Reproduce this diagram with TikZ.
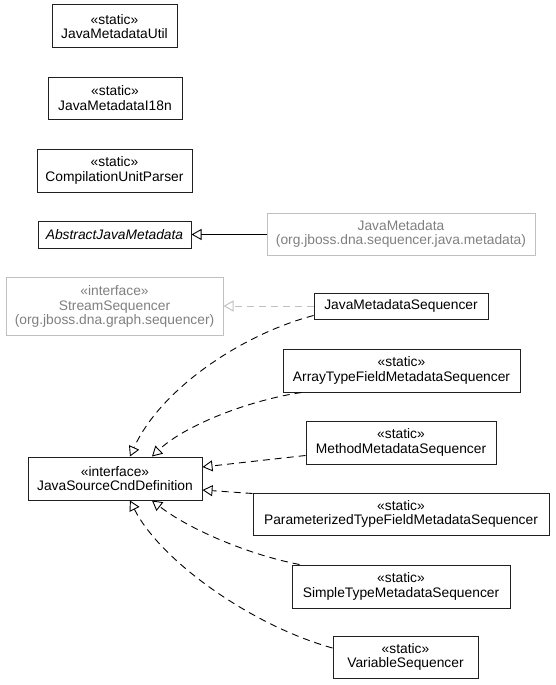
\documentclass[tikz,border=0pt]{standalone}
\usepackage{fontspec}
\setmainfont{Liberation Sans}
\usetikzlibrary{arrows.meta,calc}
\definecolor{graytext}{HTML}{808080}
\definecolor{grayline}{HTML}{C0C0C0}
\definecolor{boxline}{HTML}{202020}
\tikzset{
  cls/.style={draw=boxline, line width=1pt, fill=white, inner sep=0pt, align=center,
    font=\fontsize{13.8}{14.6}\selectfont},
  extcls/.style={cls, draw=grayline, text=graytext},
  realize/.style={dashed, dash pattern=on 7pt off 5pt, line width=0.9pt,
    -{Triangle[open, length=10pt, width=11pt]}},
  extrealize/.style={realize, draw=grayline},
  inherit/.style={line width=0.9pt, -{Triangle[open, length=10pt, width=11pt]}}
}
\begin{document}
\begin{tikzpicture}[x=1pt,y=-1pt]
\useasboundingbox (0,0) rectangle (555,685);
% top static classes
\node[cls, minimum width=125pt, minimum height=43pt] (util) at (114.5,26.5) {«static»\\JavaMetadataUtil};
\node[cls, minimum width=134pt, minimum height=42pt] (i18n) at (115,98) {«static»\\JavaMetadataI18n};
\node[cls, minimum width=155pt, minimum height=43pt] (cup) at (114.5,170.5) {«static»\\CompilationUnitParser};
\node[cls, minimum width=153pt, minimum height=27pt, font=\fontsize{13.8}{14.6}\selectfont\itshape] (ajm) at (114.5,234.5) {AbstractJavaMetadata};
\node[extcls, minimum width=268pt, minimum height=42pt] (jm) at (401,234) {JavaMetadata\\(org.jboss.dna.sequencer.java.metadata)};
\node[extcls, minimum width=217pt, minimum height=58pt] (ss) at (114.5,306.5) {«interface»\\StreamSequencer\\(org.jboss.dna.graph.sequencer)};
\node[cls, minimum width=174pt, minimum height=26pt] (jms) at (401,306) {JavaMetadataSequencer};
\node[cls, minimum width=237pt, minimum height=43pt] (atf) at (401.5,370.5) {«static»\\ArrayTypeFieldMetadataSequencer};
\node[cls, minimum width=190pt, minimum height=43pt] (mms) at (401,442.5) {«static»\\MethodMetadataSequencer};
\node[cls, minimum width=174pt, minimum height=43pt] (jscd) at (115,478.5) {«interface»\\JavaSourceCndDefinition};
\node[cls, minimum width=296pt, minimum height=42pt] (ptf) at (401,514) {«static»\\ParameterizedTypeFieldMetadataSequencer};
\node[cls, minimum width=218pt, minimum height=43pt] (stm) at (401,586.5) {«static»\\SimpleTypeMetadataSequencer};
\node[cls, minimum width=145pt, minimum height=42pt] (var) at (405.5,657) {«static»\\VariableSequencer};
% connectors
\draw[inherit] (jm.west |- ajm.east) -- (ajm.east);
\draw[extrealize] (jms.west) -- (jms.west -| ss.east);
\draw[realize] ($(jms.south west)+(0,-4)$) .. controls (240,335) and (160,390) .. ($(jscd.north)+(15,0)$);
\draw[realize] ($(atf.south west)+(19,0)$) .. controls (250,400) and (185,425) .. ($(jscd.north)+(37,0)$);
\draw[realize] ($(mms.south west)+(0,-9)$) -- ($(jscd.east)+(0,-11.5)$);
\draw[realize] ($(ptf.north west)+(0,1)$) -- ($(jscd.east)+(0,11.5)$);
\draw[realize] ($(stm.north west)+(8,0)$) .. controls (250,555) and (190,530) .. ($(jscd.south)+(37,0)$);
\draw[realize] ($(var.west)+(0,-9)$) .. controls (250,625) and (160,560) .. ($(jscd.south)+(15,0)$);
\end{tikzpicture}
\end{document}
